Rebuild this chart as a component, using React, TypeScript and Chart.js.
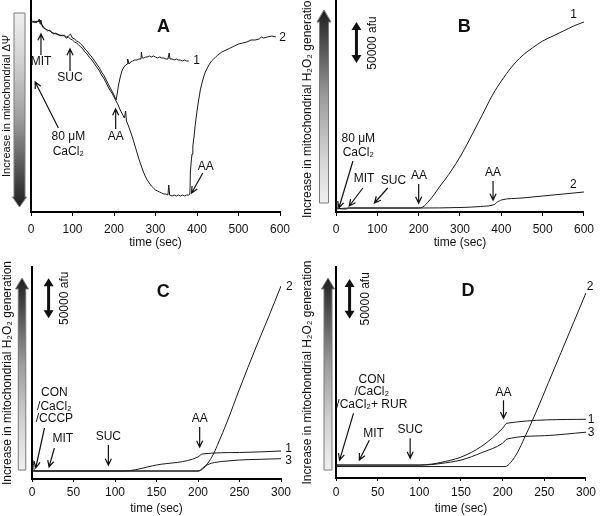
import React, { useEffect, useRef } from "react";
import { Chart, registerables } from "chart.js";
Chart.register(...registerables);

const FONT = "'Liberation Sans', Arial, Helvetica, sans-serif";
const INK = "#111";

// ---------- Panel A : mitochondrial membrane potential ----------
const tA1 = [0,4,8,12,16,20,22,24,27,30,
  35,40,45,50,55,60,65,70,75,80,
  85,90,95,100,105,110,115,120,125,130,
  135,140,145,150,155,160,165,170,175,180,
  185,190,195,200,205,208,211,214,217,220,
  224,228,232,233,236,240,245,250,255,260,
  265,266,268,272,276,280,285,290,295,300,
  305,310,315,320,325,330,333,335,340,345,
  350,355,360,365,370,375,380];
const vA1 = [190,190,191,189,191,190,192,189,187,185,
  183,182,181,180,178,179,177,177,176,177,
  175,176,178,174,173,171,170,168,166,163,
  161,158,156,153,150,147,144,140,137,133,
  129,125,121,117,112,119,127,133,138,142,
  145,147,148,153,148,150,151,152,152,153,
  153,160,154,154,155,155,156,155,156,155,
  154,155,154,154,153,153,159,153,153,152,
  153,152,152,151,152,151,151];
const tA2 = [0,4,8,12,16,20,22,24,27,30,
  35,40,45,50,55,60,65,70,75,80,
  85,90,95,100,105,110,115,120,125,130,
  135,140,145,150,155,160,165,170,175,180,
  185,190,195,200,205,210,215,220,225,228,
  230,235,240,245,250,255,260,265,270,275,
  280,285,290,295,300,305,310,315,320,325,
  330,332,334,340,345,350,355,360,365,370,
  375,380,383,384,386,388,390,393,396,400,
  404,408,412,416,420,425,430,435,440,445,
  450,460,470,480,490,500,510,520,530,540,
  550,555,560,570,580,590];
const vA2 = [190,191,189,191,190,193,188,190,186,184,
  183,181,182,179,179,178,178,176,177,176,
  174,175,173,172,170,169,167,165,163,160,
  158,155,153,150,147,144,141,137,134,130,
  126,122,119,115,111,107,102,98,94,101,
  91,86,80,74,67,60,53,47,41,36,
  32,29,26,24,22,21,20,19,18,18,
  17,27,17,16,17,16,17,16,17,16,
  17,17,18,40,50,58,66,76,88,101,
  112,122,129,135,140,144,148,151,153,155,
  157,160,162,164,166,168,169,170,172,172,
  173,175,174,175,176,175];

// ---------- Panel B ----------
const tB1 = [0,1,3,25,30,100,200,210,225,240,250,265,280,300,320,340,360,380,400,425,450,475,500,525,550,575,600];
const vB1 = [12,12,4,3,4,4,4,5,11,19,25,33,42,55,70,86,102,118,131,145,156,164,171,176,181,186,190];
const tB2 = [0,30,100,200,300,350,380,385,390,395,400,450,500,550,600];
const vB2 = [3,4,4,4,4.5,5.5,7,8,10,11,12,14,16,18,20];

// ---------- Panel C ----------
const tC1 = [0,1,3,110,150,200,205,250,300];
const vC1 = [19,19,8,8,14,22,25,26.5,28];
const tC2 = [0,200,203,207,212,218,225,235,250,270,285,300];
const vC2 = [8,8,8.5,11,16,24,37,57,90,132,162,193];
const tC3 = [0,200,203,207,212,220,235,250,275,300];
const vC3 = [8,8,9,12,14.5,16.5,18,19,19.7,20.3];

// ---------- Panel D ----------
const tD1 = [0,100,115,125,150,175,200,205,300];
const vD1 = [13,13,14,15.5,21,32,50,55,59];
const tD2 = [0,203,210,218,226,240,255,270,285,300];
const vD2 = [11.5,11.5,16,26,40,66,96,126,156,186];
const tD3 = [0,100,115,125,150,175,200,205,250,300];
const vD3 = [13,13,13.5,14.5,18,25.5,35,39,42.5,46];

const xTicksLong = [0, 100, 200, 300, 400, 500, 600];
const xTicksShort = [0, 50, 100, 150, 200, 250, 300];
const X_TITLE = "time (sec)";
const Y_TITLE_A = "Increase in mitochondrial ΔΨ";
const Y_TITLE_H2O2 = "Increase in mitochondrial H₂O₂ generation";

type Note =
  | { k: "t"; x: number; y: number; s: string; big?: boolean; rot?: boolean }
  | { k: "a"; x1: number; y1: number; x2: number; y2: number }
  | { k: "bar"; x: number; y1: number; y2: number };

const notesA: Note[] = [
  { k: "t", x: 319, y: 185, s: "A", big: true },
  { k: "t", x: 24, y: 150, s: "MIT" }, { k: "a", x1: 24, y1: 157, x2: 24, y2: 178 },
  { k: "t", x: 94, y: 134, s: "SUC" }, { k: "a", x1: 94, y1: 141, x2: 94, y2: 163 },
  { k: "t", x: 204, y: 75, s: "AA" }, { k: "a", x1: 204, y1: 83, x2: 204, y2: 103 },
  { k: "t", x: 90, y: 75, s: "80 μM" }, { k: "t", x: 90, y: 60, s: "CaCl₂" },
  { k: "a", x1: 66, y1: 84, x2: 10, y2: 130 },
  { k: "t", x: 421, y: 45, s: "AA" }, { k: "a", x1: 414, y1: 39, x2: 387, y2: 19 },
  { k: "t", x: 399, y: 151, s: "1" }, { k: "t", x: 606, y: 174, s: "2" },
];
const notesB: Note[] = [
  { k: "t", x: 310, y: 185, s: "B", big: true },
  { k: "t", x: 575, y: 197, s: "1" }, { k: "t", x: 574, y: 27, s: "2" },
  { k: "t", x: 54, y: 73, s: "80 μM" }, { k: "t", x: 54, y: 59, s: "CaCl₂" },
  { k: "a", x1: 41, y1: 51, x2: 7, y2: 4 },
  { k: "t", x: 68, y: 33, s: "MIT" }, { k: "a", x1: 65, y1: 24, x2: 32, y2: 6 },
  { k: "t", x: 139, y: 31, s: "SUC" }, { k: "a", x1: 125, y1: 24, x2: 93, y2: 9 },
  { k: "t", x: 201, y: 36, s: "AA" }, { k: "a", x1: 200, y1: 28, x2: 200, y2: 9 },
  { k: "t", x: 380, y: 39, s: "AA" }, { k: "a", x1: 380, y1: 31, x2: 380, y2: 12 },
  { k: "bar", x: 49.5, y1: 190, y2: 149 }, { k: "t", x: 89, y: 169, s: "50000 afu", rot: true },
];
const notesC: Note[] = [
  { k: "t", x: 158, y: 187, s: "C", big: true },
  { k: "t", x: 310, y: 192.5, s: "2" }, { k: "t", x: 309, y: 30, s: "1" }, { k: "t", x: 309, y: 18, s: "3" },
  { k: "t", x: 27, y: 86, s: "CON" }, { k: "t", x: 27, y: 72.5, s: "/CaCl₂" }, { k: "t", x: 27, y: 60, s: "/CCCP" },
  { k: "a", x1: 15, y1: 51, x2: 4.5, y2: 11 },
  { k: "t", x: 37, y: 40, s: "MIT" }, { k: "a", x1: 27, y1: 31, x2: 20.5, y2: 12 },
  { k: "t", x: 92, y: 42, s: "SUC" }, { k: "a", x1: 92, y1: 34, x2: 92, y2: 14 },
  { k: "t", x: 202, y: 60, s: "AA" }, { k: "a", x1: 202, y1: 52, x2: 202, y2: 32 },
  { k: "bar", x: 20, y1: 200.7, y2: 160.7 }, { k: "t", x: 39.4, y: 180.7, s: "50000 afu", rot: true },
];
const notesD: Note[] = [
  { k: "t", x: 158.5, y: 188, s: "D", big: true },
  { k: "t", x: 305, y: 192, s: "2" }, { k: "t", x: 306, y: 59, s: "1" }, { k: "t", x: 306, y: 46, s: "3" },
  { k: "t", x: 43, y: 99, s: "CON" }, { k: "t", x: 43, y: 86.5, s: "/CaCl₂" }, { k: "t", x: 43, y: 74, s: "/CaCl₂+ RUR" },
  { k: "a", x1: 21, y1: 65, x2: 4.3, y2: 18 },
  { k: "t", x: 45, y: 45, s: "MIT" }, { k: "a", x1: 40, y1: 38, x2: 28, y2: 18 },
  { k: "t", x: 89, y: 49, s: "SUC" }, { k: "a", x1: 89, y1: 40, x2: 89, y2: 20 },
  { k: "t", x: 201, y: 86, s: "AA" }, { k: "a", x1: 201, y1: 78, x2: 201, y2: 60 },
  { k: "bar", x: 16.3, y1: 200, y2: 160 }, { k: "t", x: 36, y: 180, s: "50000 afu", rot: true },
];

type Grad = { dir: "up" | "down"; dx: number; w: number; headW: number; headL: number; tip: number; tail: number };

type Panel = {
  left: number; top: number; w: number; h: number;
  pad: { left: number; top: number; right: number; bottom: number };
  yW: number; xH: number; tickLen: number; tickPad: number; ySize: number;
  xmax: number; xticks: number[]; smooth: boolean; ytitle: string;
  series: { t: number[]; v: number[] }[]; notes: Note[]; grad: Grad;
};

const PANELS: Panel[] = [
  { left: 0, top: 0, w: 300, h: 250, pad: { left: 0, top: 0, right: 20, bottom: 0 }, yW: 31, xH: 38, tickLen: 4, tickPad: 6, ySize: 11,
    xmax: 600, xticks: xTicksLong, smooth: false, ytitle: Y_TITLE_A,
    series: [{ t: tA1, v: vA1 }, { t: tA2, v: vA2 }], notes: notesA,
    grad: { dir: "down", dx: 11.5, w: 11, headW: 14, headL: 10, tip: 207, tail: 13 } },
  { left: 300, top: 0, w: 300, h: 250, pad: { left: 0, top: 0, right: 13, bottom: 0 }, yW: 36, xH: 38, tickLen: 4, tickPad: 6, ySize: 12,
    xmax: 600, xticks: xTicksLong, smooth: true, ytitle: Y_TITLE_H2O2,
    series: [{ t: tB1, v: vB1 }, { t: tB2, v: vB2 }], notes: notesB,
    grad: { dir: "up", dx: 12, w: 9, headW: 14, headL: 12, tip: 10, tail: 203 } },
  { left: 0, top: 260, w: 300, h: 256, pad: { left: 0, top: 7, right: 19, bottom: 0 }, yW: 32, xH: 37, tickLen: 3, tickPad: 3, ySize: 12,
    xmax: 300, xticks: xTicksShort, smooth: true, ytitle: Y_TITLE_H2O2,
    series: [{ t: tC1, v: vC1 }, { t: tC2, v: vC2 }, { t: tC3, v: vC3 }], notes: notesC,
    grad: { dir: "up", dx: 10, w: 7.5, headW: 13, headL: 11, tip: 11, tail: 203 } },
  { left: 300, top: 260, w: 300, h: 256, pad: { left: 0, top: 7, right: 14, bottom: 0 }, yW: 36, xH: 38, tickLen: 3, tickPad: 4, ySize: 12,
    xmax: 300, xticks: xTicksShort, smooth: true, ytitle: Y_TITLE_H2O2,
    series: [{ t: tD1, v: vD1 }, { t: tD2, v: vD2 }, { t: tD3, v: vD3 }], notes: notesD,
    grad: { dir: "up", dx: 8, w: 8, headW: 13, headL: 11, tip: 11, tail: 203 } },
];

function drawGrad(ctx: CanvasRenderingContext2D, ca: any, g: Grad) {
  const cx = ca.left - g.dx;
  const tipY = ca.top + g.tip;
  const tailY = ca.top + g.tail;
  const sgn = g.dir === "down" ? 1 : -1;
  const baseY = tipY - sgn * g.headL;
  const hw = g.w / 2, hh = g.headW / 2;
  const grd = ctx.createLinearGradient(0, tipY, 0, tailY);
  grd.addColorStop(0, "#1e1e1e");
  grd.addColorStop(0.1, "#3a3a3a");
  grd.addColorStop(0.45, "#9c9c9c");
  grd.addColorStop(0.75, "#d2d2d2");
  grd.addColorStop(1, "#efefef");
  ctx.beginPath();
  ctx.moveTo(cx - hw, tailY);
  ctx.lineTo(cx - hw, baseY);
  ctx.lineTo(cx - hh, baseY);
  ctx.lineTo(cx, tipY);
  ctx.lineTo(cx + hh, baseY);
  ctx.lineTo(cx + hw, baseY);
  ctx.lineTo(cx + hw, tailY);
  ctx.closePath();
  ctx.fillStyle = grd;
  ctx.fill();
  ctx.strokeStyle = "#7a7a7a";
  ctx.lineWidth = 1;
  ctx.stroke();
}

function notesPlugin(p: Panel) {
  return {
    id: "notes",
    afterDraw(chart: any) {
      const ctx: CanvasRenderingContext2D = chart.ctx;
      const xs = chart.scales.x, ys = chart.scales.y;
      const ca = chart.chartArea;
      ctx.save();
      drawGrad(ctx, ca, p.grad);
      ctx.fillStyle = INK;
      ctx.strokeStyle = INK;
      for (const n of p.notes) {
        if (n.k === "t") {
          const px = xs.getPixelForValue(n.x), py = ys.getPixelForValue(n.y);
          ctx.font = n.big ? `bold 18px ${FONT}` : `12px ${FONT}`;
          ctx.textAlign = "center";
          ctx.textBaseline = "middle";
          if (n.rot) {
            ctx.save();
            ctx.translate(px, py);
            ctx.rotate(-Math.PI / 2);
            ctx.fillText(n.s, 0, 0);
            ctx.restore();
          } else {
            ctx.fillText(n.s, px, py);
          }
        } else if (n.k === "a") {
          const x1 = xs.getPixelForValue(n.x1), y1 = ys.getPixelForValue(n.y1);
          const x2 = xs.getPixelForValue(n.x2), y2 = ys.getPixelForValue(n.y2);
          const ang = Math.atan2(y2 - y1, x2 - x1);
          const L = 7, spread = 0.45;
          ctx.lineWidth = 1.2;
          ctx.beginPath();
          ctx.moveTo(x1, y1);
          ctx.lineTo(x2, y2);
          ctx.moveTo(x2 - L * Math.cos(ang - spread), y2 - L * Math.sin(ang - spread));
          ctx.lineTo(x2, y2);
          ctx.lineTo(x2 - L * Math.cos(ang + spread), y2 - L * Math.sin(ang + spread));
          ctx.stroke();
        } else {
          const px = xs.getPixelForValue(n.x);
          const top = ys.getPixelForValue(n.y1), bot = ys.getPixelForValue(n.y2);
          const hl = 8, hw = 5;
          ctx.lineWidth = 3;
          ctx.beginPath();
          ctx.moveTo(px, top + hl - 1);
          ctx.lineTo(px, bot - hl + 1);
          ctx.stroke();
          ctx.beginPath();
          ctx.moveTo(px, top); ctx.lineTo(px - hw, top + hl); ctx.lineTo(px + hw, top + hl); ctx.closePath();
          ctx.moveTo(px, bot); ctx.lineTo(px - hw, bot - hl); ctx.lineTo(px + hw, bot - hl); ctx.closePath();
          ctx.fill();
        }
      }
      ctx.restore();
    },
  };
}

function PanelChart({ p }: { p: Panel }) {
  const ref = useRef<HTMLCanvasElement>(null);
  useEffect(() => {
    const chart = new Chart(ref.current!, {
      type: "line",
      data: {
        datasets: p.series.map((s) => ({
          data: s.t.map((t, i) => ({ x: t, y: s.v[i] })),
          borderColor: "#1a1a1a",
          borderWidth: 1,
          pointRadius: 0,
          fill: false,
          tension: 0,
          cubicInterpolationMode: p.smooth ? "monotone" : "default",
        })),
      },
      options: {
        responsive: false,
        animation: false,
        devicePixelRatio: 1,
        layout: { padding: p.pad },
        plugins: { legend: { display: false }, tooltip: { enabled: false }, title: { display: false } },
        scales: {
          x: {
            type: "linear",
            min: 0,
            max: p.xmax,
            afterBuildTicks: (s: any) => { s.ticks = p.xticks.map((v) => ({ value: v })); },
            ticks: { font: { family: FONT, size: 12 }, color: INK, padding: p.tickPad, maxRotation: 0, autoSkip: false },
            grid: { display: true, drawOnChartArea: false, drawTicks: true, tickLength: p.tickLen, color: "#000", lineWidth: 1 },
            border: { display: true, color: "#000", width: 2 },
            title: { display: true, text: X_TITLE, font: { family: FONT, size: 12 }, color: INK, padding: 0 },
            afterFit: (s: any) => { s.height = p.xH; },
          },
          y: {
            type: "linear",
            min: 0,
            max: 212,
            ticks: { display: false },
            grid: { display: false },
            border: { display: true, color: "#000", width: 2 },
            title: { display: true, text: p.ytitle, font: { family: FONT, size: p.ySize }, color: INK, padding: 0 },
            afterFit: (s: any) => { s.width = p.yW; },
          },
        },
      },
      plugins: [notesPlugin(p)],
    } as any);
    return () => chart.destroy();
  }, [p]);
  return (
    <canvas
      ref={ref}
      width={p.w}
      height={p.h}
      style={{ position: "absolute", left: p.left, top: p.top, width: p.w, height: p.h }}
    />
  );
}

export default function App() {
  return (
    <div style={{ position: "absolute", left: 0, top: 0, width: 600, height: 516, background: "#fff" }}>
      {PANELS.map((p, i) => (
        <PanelChart key={i} p={p} />
      ))}
    </div>
  );
}
